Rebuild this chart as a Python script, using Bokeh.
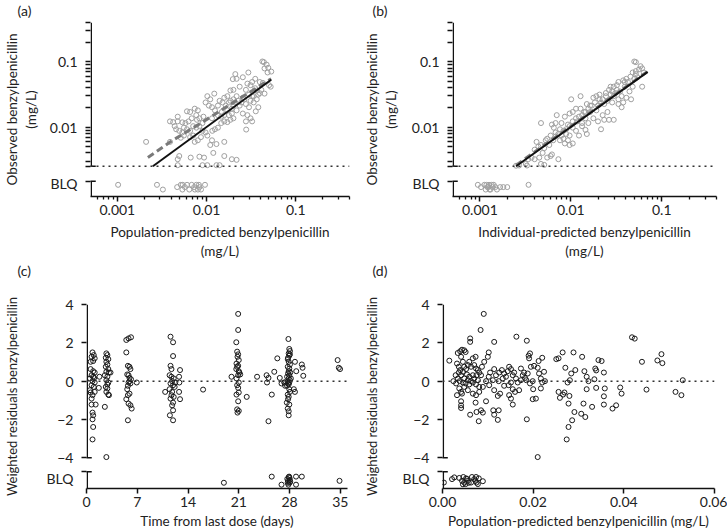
from bokeh.plotting import figure
from bokeh.models import (FixedTicker, Span, Whisker, TeeHead, Title,
                          NumeralTickFormatter, Range1d, ColumnDataSource)
from bokeh.layouts import row, column
from bokeh.embed import file_html
from bokeh.resources import INLINE

FONT = "Lato"
TXT = "#222222"
AX = "#111111"

# ---------------- axis definitions ----------------
LOG_X_RANGE = (0.0005, 0.4)
LOG_Y_RANGE = (0.000861, 0.4)
LLOQ = 0.0025
LOG_BLQ_TOP = 0.00147
LOG_BLQ_LABEL_POS = 0.00094      # tick that carries the two-line "BLQ" label
LOG_X_MAJOR = [0.001, 0.01, 0.1]
LOG_X_LABELS = ["0.001", "0.01", "0.1"]
LOG_X_MINOR = [0.0006, 0.0007, 0.0008, 0.0009, 0.002, 0.003, 0.004, 0.005, 0.006,
               0.007, 0.008, 0.009, 0.02, 0.03, 0.04, 0.05, 0.06, 0.07, 0.08, 0.09,
               0.2, 0.3, 0.4]
LOG_Y_MAJOR = [0.01, 0.1]
LOG_Y_LABELS = ["0.01", "0.1"]
LOG_Y_MINOR = [0.0025, 0.003, 0.004, 0.005, 0.006, 0.007, 0.008, 0.009, 0.01, 0.02, 0.03,
               0.04, 0.05, 0.06, 0.07, 0.08, 0.09, 0.1, 0.2, 0.3, 0.4]
BLQ_TEXT = "BLQ\n "

RES_Y_RANGE = (-5.6, 4.0)
RES_BLQ_TOP = -4.73
RES_BLQ_LABEL_POS = -5.59
RES_Y_TICKS = [-4, -2, 0, 2, 4]
RES_Y_LABELS = ["\u22124", "\u22122", "0", "2", "4"]
TIME_RANGE = (0, 36)
TIME_TICKS = [0, 7, 14, 21, 28, 35]
PRED_RANGE = (0, 0.06)
PRED_TICKS = [0, 0.02, 0.04, 0.06]

# ---------------- panel (a): observed vs population-predicted ----------------
pred_a = [0.0422, 0.0439, 0.0471, 0.0446, 0.0491, 0.0531, 0.0483, 0.0210, 0.0294, 0.0255,
          0.0217, 0.0197, 0.0351, 0.0324, 0.0395, 0.0428, 0.0502, 0.0523, 0.0287, 0.0311,
          0.0235, 0.0185, 0.0200, 0.0276, 0.0351, 0.0365, 0.0446, 0.0380, 0.0299, 0.0324,
          0.0217, 0.0255, 0.0200, 0.0158, 0.0171, 0.0185, 0.0151, 0.0164, 0.0200, 0.0235,
          0.0276, 0.0337, 0.0299, 0.0380, 0.0217, 0.0255, 0.0287, 0.0311, 0.0324, 0.0276,
          0.0356, 0.0278, 0.0200, 0.0185, 0.0171, 0.0158, 0.0146, 0.0134, 0.0124, 0.0115,
          0.0106, 0.00975, 0.0102, 0.0110, 0.0122, 0.0134, 0.0148, 0.0158, 0.0178, 0.0192,
          0.0134, 0.0124, 0.0116, 0.00922, 0.00831, 0.0078, 0.00767, 0.00798, 0.00737, 0.00654,
          0.00603, 0.00681, 0.00628, 0.0058, 0.00535, 0.00475, 0.00422, 0.00389, 0.00439, 0.00456,
          0.00494, 0.00535, 0.00603, 0.00708, 0.00767, 0.009, 0.00975, 0.00865, 0.00798, 0.00737,
          0.00708, 0.00654, 0.00557, 0.00514, 0.0102, 0.0115, 0.0129, 0.0110, 0.0158, 0.0119,
          0.0158, 0.00937, 0.00831, 0.00664, 0.00494, 0.00475, 0.0192, 0.0217, 0.0021, 0.00389,
          0.00475, 0.009, 0.0102, 0.0129, 0.0140,
          0.0140, 0.0178, 0.0192, 0.0208, 0.0226, 0.0245, 0.0265, 0.0311, 0.0337, 0.0365,
          0.0395, 0.0411, 0.0171, 0.009, 0.00831, 0.00557, 0.00654, 0.00475, 0.0115, 0.0146]
obs_a = [0.101, 0.0988, 0.0904, 0.0791, 0.0809, 0.0708, 0.0685, 0.0647, 0.0685, 0.0579,
         0.0548, 0.0542, 0.0548, 0.049, 0.049, 0.0474, 0.0438, 0.0415, 0.0463, 0.0438,
         0.0415, 0.0363, 0.0371, 0.0371, 0.0393, 0.0363, 0.0325, 0.0314, 0.0314, 0.0297,
         0.0297, 0.0281, 0.0266, 0.0281, 0.0297, 0.0252, 0.0238, 0.0213, 0.0213, 0.0213,
         0.0225, 0.0238, 0.0201, 0.0201, 0.0180, 0.0161, 0.0152, 0.0136, 0.0122, 0.0122,
         0.0174, 0.00914, 0.0136, 0.0129, 0.0119, 0.0122, 0.0115, 0.0152, 0.0180, 0.0201,
         0.0213, 0.0238, 0.0297, 0.0266, 0.0325, 0.0213, 0.0170, 0.0152, 0.0152, 0.0161,
         0.00977, 0.00924, 0.00874, 0.0144, 0.0136, 0.0129, 0.0152, 0.0180, 0.0191, 0.0170,
         0.0174, 0.0136, 0.0122, 0.0115, 0.0118, 0.0122, 0.0119, 0.0122, 0.0103, 0.00924,
         0.00874, 0.00826, 0.00924, 0.0103, 0.00977, 0.00874, 0.00826, 0.0070, 0.00626, 0.00592,
         0.0074, 0.0070, 0.0074, 0.00684, 0.0074, 0.00626, 0.00548, 0.0053, 0.00592, 0.00401,
         0.00359, 0.0034, 0.00351, 0.0034, 0.00359, 0.00321, 0.00321, 0.00314, 0.00592, 0.00592,
         0.0026, 0.0026, 0.0026, 0.0026, 0.0026,
         0.0252, 0.0238, 0.0191, 0.0238, 0.0252, 0.0238, 0.0266, 0.0252, 0.0297, 0.0266,
         0.0330, 0.0371, 0.0180, 0.0115, 0.0103, 0.00977, 0.00874, 0.0144, 0.0136, 0.0144]
blq_pred_a = [0.00102, 0.00278, 0.00324, 0.00468, 0.00515, 0.00536, 0.00571, 0.00604, 0.0064, 0.00681,
              0.00726, 0.00768, 0.008, 0.00832, 0.00866, 0.0096, 0.0054, 0.0074, 0.0082]
blq_pos_a = [0.0013, 0.0013, 0.0011, 0.0012, 0.0013, 0.0011, 0.0012, 0.0013, 0.0011, 0.0013,
             0.0012, 0.0013, 0.0011, 0.0012, 0.0011, 0.0013, 0.0013, 0.0011, 0.0013]
identity_a = [0.0025, 0.053]
loess_a_x = [0.0022, 0.0039, 0.009, 0.02, 0.043, 0.053]
loess_a_y = [0.0034, 0.0059, 0.0119, 0.0238, 0.046, 0.055]

# ---------------- panel (b): observed vs individual-predicted ----------------
ipred_b = [0.0499, 0.0519, 0.0585, 0.0562, 0.0609, 0.0479, 0.0519, 0.0634, 0.0453, 0.0408,
           0.0377, 0.0425, 0.0499, 0.054, 0.0609, 0.0479, 0.0442, 0.0392, 0.0334, 0.0321,
           0.02965, 0.0274, 0.0263, 0.0285, 0.0309, 0.0348, 0.0362, 0.0408, 0.046, 0.0377,
           0.0334, 0.02965, 0.0274, 0.0243, 0.0224, 0.0253, 0.0233, 0.0215, 0.0199, 0.0184,
           0.0177, 0.0191, 0.0207, 0.0170, 0.0156, 0.0163, 0.0145, 0.0133, 0.0128, 0.0150,
           0.0123, 0.0114, 0.0105, 0.0118, 0.0133, 0.0145, 0.0199, 0.0233, 0.0263, 0.02965,
           0.0215, 0.0150, 0.0105, 0.0097, 0.0089, 0.0083, 0.0073, 0.0068, 0.0065, 0.0062,
           0.0068, 0.0079, 0.0086, 0.0097, 0.0105, 0.0114, 0.0101, 0.0128, 0.0070, 0.0068,
           0.0076, 0.0083, 0.0086, 0.0093, 0.0105, 0.0097, 0.0123, 0.0060, 0.0055, 0.0053,
           0.0047, 0.0042, 0.0044, 0.0040, 0.0047, 0.0051, 0.0049, 0.0045, 0.0055, 0.0060,
           0.0062, 0.0073, 0.0040, 0.0037, 0.0034, 0.0032, 0.0033, 0.0027, 0.0025, 0.0047,
           0.0051, 0.0145, 0.0253, 0.0285, 0.0334, 0.0362, 0.0224, 0.0177, 0.0097, 0.0133,
           0.0156, 0.0191, 0.0114, 0.0089, 0.0079, 0.0064, 0.0058, 0.0076, 0.0093, 0.0140,
           0.0163, 0.0207, 0.0243, 0.0321, 0.0392, 0.0519]
obs_b = [0.1009, 0.0988, 0.0855, 0.0765, 0.0791, 0.0685, 0.0647, 0.0685, 0.0592, 0.0548,
         0.0519, 0.049, 0.0548, 0.0579, 0.0415, 0.0415, 0.0351, 0.0415, 0.049, 0.0438,
         0.0415, 0.0415, 0.0371, 0.0351, 0.0332, 0.0351, 0.0297, 0.0281, 0.0266, 0.0238,
         0.0266, 0.0297, 0.0314, 0.0297, 0.0266, 0.0252, 0.0225, 0.0238, 0.0213, 0.0238,
         0.0281, 0.0297, 0.0314, 0.0213, 0.0191, 0.0170, 0.0170, 0.0152, 0.0191, 0.0225,
         0.0144, 0.0136, 0.0122, 0.0122, 0.0115, 0.0136, 0.0122, 0.0129, 0.0129, 0.0129,
         0.00924, 0.00782, 0.00977, 0.0103, 0.00924, 0.00874, 0.00782, 0.00826, 0.00977, 0.0109,
         0.0115, 0.0115, 0.0144, 0.0161, 0.0170, 0.0191, 0.0266, 0.0297, 0.0152, 0.00716,
         0.00626, 0.00662, 0.0056, 0.00626, 0.0056, 0.0053, 0.0074, 0.0074, 0.00662, 0.00626,
         0.0115, 0.00592, 0.00501, 0.00449, 0.0053, 0.00474, 0.00401, 0.0034, 0.0034, 0.00359,
         0.0038, 0.00321, 0.00321, 0.0034, 0.00321, 0.00272, 0.00257, 0.00257, 0.00255, 0.00272,
         0.00263, 0.00904, 0.0170, 0.0238, 0.0225, 0.0201, 0.0152, 0.0136, 0.0074, 0.0103,
         0.0115, 0.0180, 0.00874, 0.00782, 0.0074, 0.00626, 0.0053, 0.00924, 0.0109, 0.0170,
         0.0213, 0.0266, 0.0332, 0.0371, 0.049, 0.072]
blq_ipred_b = [0.00095, 0.00103, 0.00112, 0.00116, 0.00121, 0.00126, 0.00131, 0.00137, 0.00142, 0.00148,
               0.00154, 0.00167, 0.00181, 0.002, 0.00343, 0.00118, 0.00128, 0.00135, 0.00124]
blq_pos_b = [0.0013, 0.0012, 0.0013, 0.0011, 0.0012, 0.0013, 0.0011, 0.0012, 0.0013, 0.0012,
             0.0011, 0.0012, 0.0012, 0.0012, 0.0013, 0.0013, 0.0011, 0.0013, 0.0012]
identity_b = [0.0025, 0.07]
loess_b_x = [0.0025, 0.005, 0.01, 0.02, 0.04, 0.07]
loess_b_y = [0.0026, 0.0052, 0.0102, 0.0205, 0.041, 0.071]

# ---------------- panel (c): weighted residuals vs time ----------------
time_c = [0.83, 0.70, 1.13, 0.92, 0.57, 0.92, 1.13, 0.70, 0.92, 0.48,
          0.83, 1.13, 0.70, 1.00, 0.48, 1.13, 0.83, 0.70, 1.26, 0.70,
          0.83, 0.92, 0.83, 0.92, 0.83, 1.79, 1.70, 0.57, 1.00, 1.05,
          0.57,
          2.74, 2.88, 2.66, 3.01, 2.74, 2.88, 2.66, 3.01, 2.74, 3.10,
          2.53, 2.88, 3.31, 2.74, 3.01, 2.66, 2.88, 2.74, 3.01, 2.53,
          2.74, 2.88, 3.10,
          5.49, 5.80, 6.14, 5.49, 5.71, 5.93, 6.06, 5.62, 5.80, 5.93,
          6.14, 5.80, 6.06, 5.62, 5.93, 5.71, 5.49, 5.80, 6.06, 6.23,
          5.71, 6.93, 5.93, 5.71,
          11.59, 11.94, 11.94, 11.59, 11.72, 11.46, 11.72, 12.03, 11.81, 11.59,
          11.94, 12.16, 11.46, 11.81, 10.85, 11.72, 12.03, 11.59, 11.94, 11.81,
          11.94, 11.50, 11.94, 12.90, 12.77, 12.81, 12.77, 12.90, 12.24, 16.08,
          20.92, 20.92, 20.66, 20.78, 20.92, 20.83, 21.00, 20.69, 20.92, 20.66,
          21.00, 21.20, 20.92, 20.00, 20.69, 21.00, 20.78, 20.92, 21.00, 20.69,
          20.92, 20.78, 21.00, 20.83, 22.10, 21.09, 20.78,
          23.53, 24.84, 24.90, 25.10, 25.56, 25.10, 25.90, 26.32, 26.66, 26.90,
          27.30,
          27.85, 27.97, 28.06, 27.89, 27.97, 27.76, 27.89, 28.06, 27.76, 27.97,
          27.89, 27.80, 27.97, 27.67, 27.89, 28.06, 27.76, 27.97, 27.89, 27.67,
          27.97, 27.76, 27.89, 27.63, 27.97, 27.76, 27.89, 27.89, 28.75, 28.93,
          28.60, 28.75, 29.70, 29.80, 29.90, 28.19, 27.30, 27.40, 28.06, 27.80,
          28.10, 27.80, 28.06, 27.80,
          34.64, 34.80, 34.97]
cwres_c = [1.50, 1.27, 1.19, 1.05, 0.63, 0.52, 0.45, 0.31, 0.23, 0.14,
           0.00, -0.07, -0.21, -0.30, -0.47, -0.56, -0.73, -0.91, -1.22, -1.22,
           -1.64, -1.78, -1.99, -2.39, -3.04, 0.23, -0.35, 1.01, 1.36, 0.17,
           -0.59,
           1.45, 1.36, 1.22, 1.15, 1.01, 0.87, 0.75, 0.63, 0.49, 0.45,
           0.31, 0.23, 0.45, 0.05, -0.07, -0.30, -0.38, -0.56, -0.70, -1.34,
           -3.96, -0.17, -0.73,
           2.15, 2.23, 2.29, 1.50, 0.80, 0.75, 0.63, 0.35, 0.31, 0.17,
           0.10, -0.07, -0.12, -0.42, -0.65, -0.73, -0.94, -1.17, -1.26, -1.43,
           -2.04, -0.07, 0.00, -0.24,
           2.32, 2.03, 1.31, 0.80, 0.63, 0.31, 0.23, 0.14, 0.00, -0.12,
           -0.21, -0.30, -0.42, -0.56, -0.56, -0.73, -0.82, -0.91, -1.12, -1.26,
           -1.52, -1.78, -2.04, 0.58, 0.23, -0.07, -0.56, -0.94, -0.07, -0.44,
           3.51, 2.67, 2.03, 1.54, 1.40, 1.27, 1.10, 0.92, 0.80, 0.63,
           0.52, 0.35, 0.31, 0.23, 0.14, -0.07, -0.21, -0.35, -0.59, -0.70,
           -1.05, -1.47, -1.55, -1.64, -0.82, 0.45, 0.75,
           0.23, 0.31, -0.07, 0.17, -0.70, -2.09, 0.49, 1.19, 0.17, -0.12,
           -0.07,
           2.20, 1.68, 1.57, 1.45, 1.33, 1.15, 1.01, 0.87, 0.75, 0.66,
           0.52, 0.40, 0.31, 0.23, 0.14, 0.05, 0.00, -0.07, -0.17, -0.24,
           -0.42, -0.70, -0.82, -1.12, -1.22, -1.43, -1.57, -1.78, 1.01, 0.52,
           -0.42, -0.56, 0.87, 0.70, 0.28, 0.14, -0.07, -0.24, 1.40, 1.22,
           0.45, -0.12, -0.56, -0.94,
           1.10, 0.70, 0.63]
blq_time_c = [18.95, 25.55, 26.90, 27.70, 27.80, 27.90, 28.00, 28.05, 27.85, 27.95,
              28.10, 27.75, 28.00, 28.90, 28.90, 29.70, 34.90]
blq_pos_c = [-5.30, -4.98, -5.40, -5.10, -5.20, -5.00, -5.30, -5.15, -5.40, -4.98,
             -5.25, -5.30, -5.05, -4.98, -5.40, -4.98, -5.20]

# ---------------- panel (d): weighted residuals vs population-predicted ----------------
pred_d = [0.0015, 0.00337, 0.0039, 0.0043, 0.0048, 0.0051, 0.0061, 0.0061, 0.0041, 0.0032,
          0.0036, 0.0039, 0.0029, 0.0034, 0.0041, 0.0045, 0.0048, 0.0052, 0.0056, 0.0059,
          0.0063, 0.0067, 0.0073, 0.0070, 0.0074, 0.0078, 0.0081, 0.0085, 0.0087, 0.0092,
          0.0100, 0.0102, 0.0114, 0.0038, 0.0045, 0.0051, 0.0056, 0.0059, 0.0063, 0.0067,
          0.0070, 0.0074, 0.0078, 0.0081, 0.0075, 0.0059, 0.0054, 0.0037, 0.0041, 0.0032,
          0.0043, 0.0041, 0.0041, 0.0041, 0.0061, 0.0073, 0.0080, 0.0075, 0.0085, 0.0089,
          0.0096, 0.0067, 0.0074, 0.0081, 0.0056, 0.0103, 0.0096, 0.0102, 0.0105, 0.0111,
          0.0114, 0.0118, 0.0124, 0.0125, 0.0131, 0.0133, 0.0136, 0.0114, 0.0122, 0.0127,
          0.0112, 0.0114, 0.0124, 0.0122, 0.0140, 0.0144, 0.0147, 0.0151, 0.0155, 0.0158,
          0.0162, 0.0166, 0.0151, 0.0146, 0.0155, 0.0160, 0.0169, 0.0147, 0.0151, 0.0155,
          0.0173, 0.0177, 0.0180, 0.0182, 0.0185, 0.0188, 0.0190, 0.0191, 0.0193, 0.0195,
          0.0193, 0.0199, 0.0200, 0.0186, 0.0202, 0.0210, 0.0213, 0.0217, 0.0220, 0.0217,
          0.0224, 0.0220, 0.0226, 0.0210, 0.0206, 0.0199, 0.0212, 0.0173, 0.0136, 0.0089,
          0.0048, 0.0030, 0.0024, 0.0045, 0.0036, 0.0067, 0.0048,
          0.0091, 0.0084, 0.0163, 0.0186,
          0.0256, 0.0265, 0.0289, 0.0308, 0.0271, 0.0284, 0.0293, 0.0276, 0.0281, 0.0313,
          0.0318, 0.0322, 0.0335, 0.0337, 0.0339, 0.0344, 0.0351, 0.0356, 0.0256, 0.0259,
          0.0266, 0.0269, 0.0280, 0.0278, 0.0291, 0.0286, 0.0278, 0.0274, 0.0306, 0.0315,
          0.0311, 0.0330, 0.0318, 0.0339, 0.0356, 0.0358, 0.0356, 0.0375, 0.0383, 0.0392,
          0.0395, 0.0418, 0.0424, 0.0440, 0.0450, 0.0474, 0.0483, 0.0485, 0.0514, 0.0527,
          0.0530, 0.0251]
cwres_d = [1.07, 1.47, 1.56, 1.64, 1.61, 1.52, 2.23, 2.05, 1.27, 0.92,
           0.75, 0.58, 0.31, 0.14, 0.31, 0.49, 0.75, 0.63, 0.84, 1.01,
           0.75, 1.19, 1.27, 0.84, 0.66, 0.58, 0.45, 0.31, 0.75, 1.01,
           1.27, 1.50, 2.05, 0.00, -0.07, -0.12, 0.05, -0.17, 0.00, -0.07,
           0.14, -0.17, 0.05, -0.30, 0.31, 0.23, 0.35, -0.38, -0.56, -0.73,
           -0.65, -1.05, -1.26, -1.40, -1.75, -1.12, -2.09, -1.61, -1.52, -1.64,
           -1.05, -0.65, -0.73, -0.56, -0.47, -0.21, 0.00, 0.23, 0.45, 0.05,
           0.63, 0.31, 0.00, 0.45, 0.58, 0.14, -0.24, -0.47, -0.77, -0.65,
           -1.52, -1.75, -1.52, -2.02, 0.23, 0.52, 0.75, 0.63, 0.31, 0.45,
           0.14, -0.07, -0.07, -0.21, -0.42, -0.56, -0.47, -0.73, -0.91, -1.22,
           0.66, 0.31, 0.45, 0.17, 0.05, 0.40, 1.33, 1.19, 1.45, 0.75,
           -0.12, 0.00, -0.42, -1.99, 0.80, 0.70, 0.40, 0.14, -0.07, -0.38,
           0.49, 1.22, 0.00, -3.96, -0.91, -0.94, 1.05, 0.05, 0.40, -0.30,
           -0.30, -0.12, 0.00, 1.01, 0.45, 0.31, 0.14,
           3.51, 2.67, 2.32, 2.11,
           1.19, 1.50, 1.50, 1.27, 0.70, 0.40, 0.58, -0.07, 0.05, 0.52,
           0.23, 0.00, 0.10, 0.66, 0.56, 1.10, 1.05, 0.45, -0.56, -0.87,
           -0.70, -0.59, -0.77, -1.17, -1.61, -2.04, -2.39, -3.04, -1.70, -1.87,
           -1.17, -1.34, -0.42, -0.35, -0.79, -0.38, -1.22, -1.43, -1.26, -0.33,
           -0.65, 2.29, 2.22, 1.01, -0.44, 1.08, 1.41, 0.94, -0.56, -0.73,
           0.05, 1.15]
blq_pred_d = [0.0003, 0.0021, 0.0026, 0.0037, 0.0043, 0.0045, 0.0046, 0.0048, 0.0051, 0.0052,
              0.0054, 0.0056, 0.0058, 0.0063, 0.0065, 0.0070, 0.0073, 0.0074, 0.0075, 0.0078,
              0.0080, 0.0089]
blq_pos_d = [-5.29, -5.11, -5.02, -5.05, -5.20, -5.38, -5.00, -5.29, -5.37, -5.07,
             -5.10, -5.20, -5.30, -5.29, -5.00, -5.11, -5.20, -5.00, -5.29, -5.37,
             -5.07, -5.22]


def pair(xs, ys):
    n = min(len(xs), len(ys))
    return list(xs[:n]), list(ys[:n])


def letter_title(text, bl, standoff):
    return Title(text=text, align="left", offset=-bl, vertical_align="top",
                 standoff=standoff, text_font=FONT, text_font_size="14px",
                 text_font_style="normal", text_color=TXT)


def base_fig(width, height, bl, br, bt, bb, xr, yr, xt="linear", yt="linear"):
    p = figure(width=width, height=height, x_range=Range1d(*xr), y_range=Range1d(*yr),
               x_axis_type=xt, y_axis_type=yt, toolbar_location=None, output_backend="svg",
               min_border_left=bl, min_border_right=br, min_border_top=bt, min_border_bottom=bb)
    p.outline_line_color = None
    p.xgrid.visible = False
    p.ygrid.visible = False
    p.background_fill_color = "white"
    p.border_fill_color = "white"
    for ax in (p.xaxis[0], p.yaxis[0]):
        ax.axis_line_width = 1.5
        ax.axis_line_color = AX
        ax.major_tick_line_width = 1.5
        ax.major_tick_line_color = AX
        ax.minor_tick_line_width = 1.3
        ax.minor_tick_line_color = AX
        ax.major_tick_in = 0
        ax.major_tick_out = 5
        ax.minor_tick_in = 0
        ax.minor_tick_out = 3
        ax.major_label_text_font = FONT
        ax.major_label_text_font_size = "14px"
        ax.major_label_text_color = TXT
        ax.axis_label_text_font = FONT
        ax.axis_label_text_font_size = "13.5px"
        ax.axis_label_text_font_style = "normal"
        ax.axis_label_text_color = TXT
        ax.major_label_standoff = 3
    # y axis: line drawn as broken segments below, ticks drawn by the axis
    ya = p.yaxis[0]
    ya.axis_line_color = None
    ya.major_tick_out = 0
    ya.major_label_standoff = 8
    ya.minor_tick_out = 5
    return p


def broken_y_axis(p, xb, main_lo, main_hi, blq_lo, blq_hi):
    main = ColumnDataSource(dict(base=[xb], lower=[main_lo], upper=[main_hi]))
    p.add_layout(Whisker(source=main, base="base", lower="lower", upper="upper",
                         dimension="height", line_color=AX, line_width=1.5,
                         lower_head=TeeHead(size=9, line_color=AX, line_width=1.5),
                         upper_head=None))
    blq = ColumnDataSource(dict(base=[xb], lower=[blq_lo], upper=[blq_hi]))
    p.add_layout(Whisker(source=blq, base="base", lower="lower", upper="upper",
                         dimension="height", line_color=AX, line_width=1.5,
                         upper_head=TeeHead(size=9, line_color=AX, line_width=1.5),
                         lower_head=None))


def log_panel(letter, below_letter, xs, ys, bx, by, lx, ly, ident, xlabel, width, bl, br,
              ylab_standoff):
    p = base_fig(width, 280, bl, br, 20, 76, LOG_X_RANGE, LOG_Y_RANGE, "log", "log")
    p.add_layout(letter_title(letter, bl, 3), "above")
    p.add_layout(letter_title(below_letter, bl, 0), "below")
    xa, ya = p.xaxis[0], p.yaxis[0]
    xa.ticker = FixedTicker(ticks=LOG_X_MAJOR, minor_ticks=LOG_X_MINOR)
    xa.major_label_overrides = dict(zip(LOG_X_MAJOR, LOG_X_LABELS))
    xa.axis_label = xlabel
    xa.axis_label_standoff = 6
    yt = [LOG_BLQ_LABEL_POS] + LOG_Y_MAJOR
    yl = [BLQ_TEXT] + LOG_Y_LABELS
    ya.ticker = FixedTicker(ticks=yt, minor_ticks=LOG_Y_MINOR + [LOG_BLQ_TOP])
    ya.major_label_overrides = dict(zip(yt, yl))
    ya.major_label_text_align = "right"
    ya.axis_label = "Observed benzylpenicillin\n(mg/L)"
    ya.axis_label_standoff = ylab_standoff
    p.add_layout(Span(location=LLOQ, dimension="width", line_color="#333333",
                      line_dash="2 4", line_width=1.5))
    x, y = pair(xs, ys)
    p.scatter(x, y, marker="circle", size=5, fill_color=None, line_color="#a0a0a0", line_width=1)
    x, y = pair(bx, by)
    p.scatter(x, y, marker="circle", size=5, fill_color=None, line_color="#a0a0a0", line_width=1)
    p.line(lx, ly, line_color="#7a7a7a", line_width=3, line_dash="7 4")
    p.line(ident, ident, line_color=AX, line_width=2)
    frame_w = width - bl - br
    xb = LOG_X_RANGE[0] * (LOG_X_RANGE[1] / LOG_X_RANGE[0]) ** (0.8 / frame_w)
    broken_y_axis(p, xb, LLOQ, LOG_Y_RANGE[1], LOG_Y_RANGE[0], LOG_BLQ_TOP)
    return p


def res_panel(xs, ys, bx, by, xr, xticks, fmt, xlabel, width, bl, br, ylab_standoff):
    p = base_fig(width, 252, bl, br, 24, 44, xr, RES_Y_RANGE)
    xa, ya = p.xaxis[0], p.yaxis[0]
    xa.ticker = FixedTicker(ticks=xticks)
    if fmt:
        xa.formatter = NumeralTickFormatter(format=fmt)
    xa.axis_label = xlabel
    xa.axis_label_standoff = 3
    yt = [RES_BLQ_LABEL_POS] + RES_Y_TICKS
    yl = [BLQ_TEXT] + RES_Y_LABELS
    ya.ticker = FixedTicker(ticks=yt, minor_ticks=RES_Y_TICKS + [RES_BLQ_TOP])
    ya.major_label_overrides = dict(zip(yt, yl))
    ya.major_label_text_align = "right"
    ya.axis_label = "Weighted residuals benzylpenicillin"
    ya.axis_label_text_font_size = "13px"
    ya.axis_label_standoff = ylab_standoff
    p.add_layout(Span(location=0, dimension="width", line_color="#333333",
                      line_dash="2 4", line_width=1.5))
    x, y = pair(xs, ys)
    p.scatter(x, y, marker="circle", size=5, fill_color=None, line_color="#1a1a1a", line_width=1)
    x, y = pair(bx, by)
    p.scatter(x, y, marker="circle", size=5, fill_color=None, line_color="#1a1a1a", line_width=1)
    frame_w = width - bl - br
    xb = xr[0] + (xr[1] - xr[0]) * 0.8 / frame_w
    broken_y_axis(p, xb, RES_Y_TICKS[0], RES_Y_TICKS[-1], RES_Y_RANGE[0], RES_BLQ_TOP)
    return p


pa = log_panel("(a)", "(c)", pred_a, obs_a, blq_pred_a, blq_pos_a, loess_a_x, loess_a_y, identity_a,
               "Population-predicted benzylpenicillin\n(mg/L)", 360, 73, 11, 8)
pb = log_panel("(b)", "(d)", ipred_b, obs_b, blq_ipred_b, blq_pos_b, loess_b_x, loess_b_y, identity_b,
               "Individual-predicted benzylpenicillin\n(mg/L)", 367, 80, 11, 10)
pc = res_panel(time_c, cwres_c, blq_time_c, blq_pos_c, TIME_RANGE, TIME_TICKS, None,
               "Time from last dose (days)", 360, 71, 13, 24)
pd_ = res_panel(pred_d, cwres_d, blq_pred_d, blq_pos_d, PRED_RANGE, PRED_TICKS, "0.00",
                "Population-predicted benzylpenicillin (mg/L)", 367, 81, 13, 20)

layout = column(row(pa, pb), row(pc, pd_))
open("out.html", "w").write(file_html(layout, INLINE))
